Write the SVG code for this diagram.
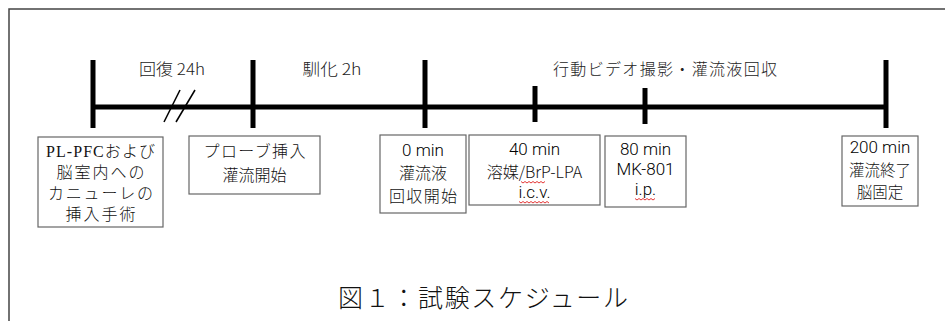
<svg xmlns="http://www.w3.org/2000/svg" width="945" height="321" viewBox="0 0 945 321">
<style>
.frame{fill:none;stroke:#444;stroke-width:1.5}
.tl{stroke:#000;stroke-width:5;fill:none}
.sl{stroke:#000;stroke-width:1.5;fill:none}
.box{fill:#fff;stroke:#666;stroke-width:1.2}
.g{font-family:"Noto Sans CJK JP","Liberation Sans",sans-serif;font-size:16px;font-weight:300;fill:#111;text-anchor:middle}
.l{font-family:Roboto,"Liberation Sans",sans-serif;font-size:17px;font-weight:300;fill:#000;text-anchor:middle}
.s{font-family:"Liberation Serif","Noto Sans CJK JP",serif;font-size:16px;font-weight:300;fill:#111;text-anchor:middle}
.lab{font-family:"Noto Sans CJK JP","Liberation Sans",sans-serif;font-size:16px;font-weight:300;fill:#222;text-anchor:middle}
.sp{stroke:#e02020;stroke-width:0.9;fill:none}
.cap{font-family:"Liberation Serif","Noto Sans CJK JP",serif;font-size:25px;font-weight:300;fill:#111;text-anchor:middle}
</style>
<rect width="945" height="321" fill="#fff"/>
<path class="frame" d="M9,321 V9 H945"/>
<g id="connectors">
<line class="tl" x1="91" y1="107" x2="888" y2="107"/>
<line class="tl" x1="93" y1="60" x2="93" y2="128"/>
<line class="tl" x1="253" y1="60" x2="253" y2="128"/>
<line class="tl" x1="425" y1="60" x2="425" y2="128"/>
<line class="tl" x1="535" y1="86" x2="535" y2="122"/>
<line class="tl" x1="645" y1="88" x2="645" y2="124"/>
<line class="tl" x1="886" y1="60" x2="886" y2="128"/>
<line class="sl" x1="164" y1="122" x2="180" y2="90"/>
<line class="sl" x1="176" y1="122" x2="195" y2="90"/>
</g>
<g id="labels">
<text class="lab" x="172" y="75" textLength="66" lengthAdjust="spacingAndGlyphs">回復 24h</text>
<text class="lab" x="332" y="75" textLength="59" lengthAdjust="spacingAndGlyphs">馴化 2h</text>
<text class="lab" x="665" y="75" textLength="224" lengthAdjust="spacing">行動ビデオ撮影・灌流液回収</text>
</g>
<g id="n1">
<rect class="box" x="38" y="137" width="125" height="90"/>
<text class="s" x="100.5" y="157" textLength="109" lengthAdjust="spacing">PL-PFCおよび</text>
<text class="s" x="100.5" y="178" textLength="88" lengthAdjust="spacing">脳室内への</text>
<text class="s" x="100.5" y="199" textLength="105" lengthAdjust="spacing">カニューレの</text>
<text class="s" x="100.5" y="220" textLength="70" lengthAdjust="spacing">挿入手術</text>
</g>
<g id="n2">
<rect class="box" x="189" y="136" width="131" height="58"/>
<text class="g" x="254.5" y="157" textLength="102" lengthAdjust="spacing">プローブ挿入</text>
<text class="g" x="254.5" y="181">灌流開始</text>
</g>
<g id="n3">
<rect class="box" x="380" y="135" width="86" height="78"/>
<text class="l" x="423" y="156">0 min</text>
<text class="g" x="423" y="178.5">灌流液</text>
<text class="g" x="423" y="201.5" textLength="68" lengthAdjust="spacing">回収開始</text>
</g>
<g id="n4">
<rect class="box" x="469" y="135" width="131" height="70"/>
<text class="l" x="534.5" y="155">40 min</text>
<text class="g" x="534.5" y="178">溶媒/BrP-LPA</text>
<text class="l" x="534.5" y="198">i.c.v.</text>
<path class="sp" d="M521,181.5 l2,1.5 l2,-1.5 l2,1.5 l2,-1.5 l2,1.5 l2,-1.5 l2,1.5 l2,-1.5 l2,1.5 l2,-1.5 l2,1.5 l2,-1.5"/>
<path class="sp" d="M519,201.5 l2,1.5 l2,-1.5 l2,1.5 l2,-1.5 l2,1.5 l2,-1.5 l2,1.5 l2,-1.5 l2,1.5 l2,-1.5 l2,1.5 l2,-1.5 l2,1.5 l2,-1.5 l2,1.5"/>
</g>
<g id="n5">
<rect class="box" x="605" y="136" width="81" height="71"/>
<text class="l" x="645.5" y="155">80 min</text>
<text class="l" x="645.5" y="175">MK-801</text>
<text class="l" x="645.5" y="195">i.p.</text>
<path class="sp" d="M635,198.5 l2,1.5 l2,-1.5 l2,1.5 l2,-1.5 l2,1.5 l2,-1.5 l2,1.5 l2,-1.5 l2,1.5 l2,-1.5"/>
</g>
<g id="n6">
<rect class="box" x="842" y="136" width="76" height="70"/>
<text class="l" x="880" y="153">200 min</text>
<text class="g" x="880" y="175.5" style="font-size:15.5px">灌流終了</text>
<text class="g" x="880" y="198" style="font-size:15.5px">脳固定</text>
</g>
<g id="caption">
<text class="cap" x="483" y="307" textLength="290" lengthAdjust="spacing">図１：試験スケジュール</text>
</g>
</svg>
